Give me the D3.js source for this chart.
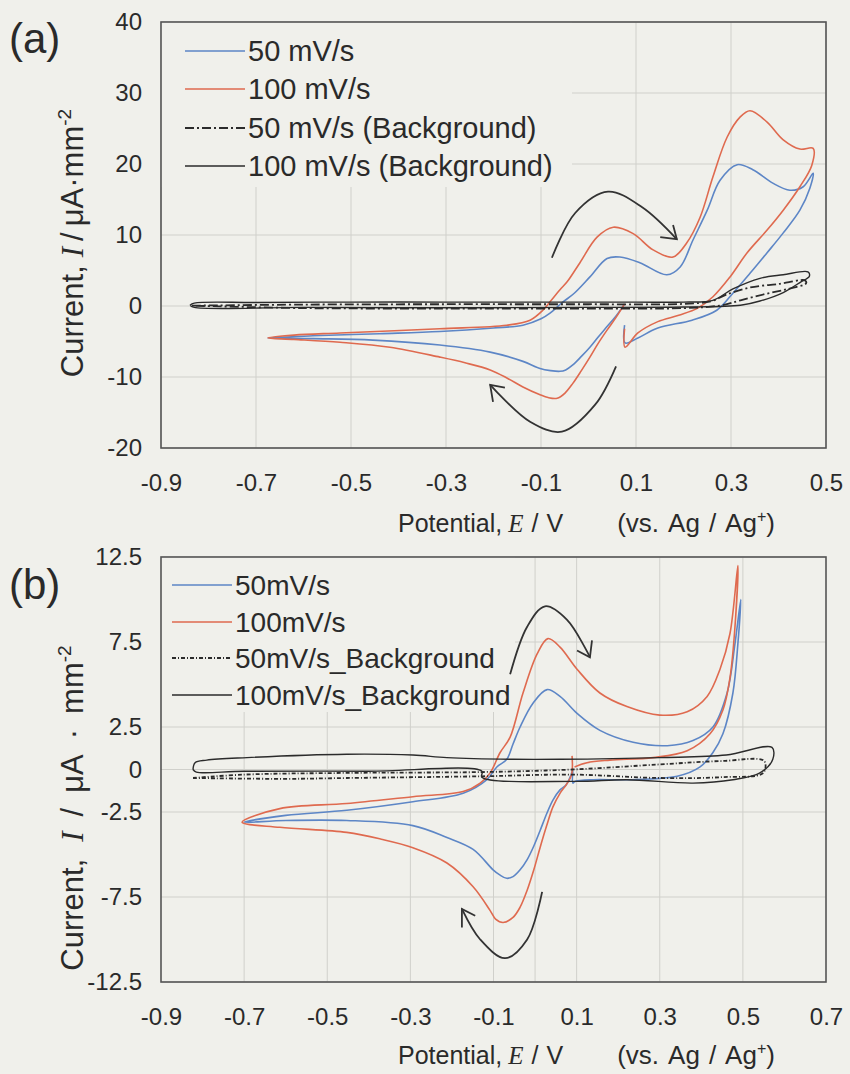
<!DOCTYPE html>
<html>
<head>
<meta charset="utf-8">
<style>
  body{margin:0;background:#f0f0eb;}
  svg{display:block;}
  text{font-family:"Liberation Sans",Arial,sans-serif;fill:#2a2a2a;}
  .serif{font-family:"Liberation Serif","Times New Roman",serif;font-style:italic;}
</style>
</head>
<body>
<svg id="chart" width="850" height="1074"></svg>
<script src="https://d3js.org/d3.v7.min.js"></script>
<script>
// ---- panel (a) : [potential V, current uA/mm2]
var a50 = [[0.076,0.3],[0.058,-1.4],[0.039,-2.9],[0.020,-4.4],[0.003,-5.8],[-0.015,-7.1],[-0.033,-8.3],[-0.048,-9.0],[-0.060,-9.2],[-0.080,-9.1],[-0.102,-8.8],[-0.138,-7.8],[-0.207,-6.5],[-0.313,-5.5],[-0.454,-4.8],[-0.580,-4.6],[-0.675,-4.5],[-0.580,-4.2],[-0.440,-3.9],[-0.313,-3.6],[-0.200,-3.1],[-0.138,-2.7],[-0.100,-1.8],[-0.081,-1.0],[-0.055,0.5],[-0.030,1.8],[0.003,4.1],[0.039,6.7],[0.066,6.9],[0.108,6.1],[0.165,4.4],[0.193,5.5],[0.220,9.3],[0.250,13.5],[0.277,17.7],[0.313,19.9],[0.346,19.2],[0.388,17.3],[0.424,16.3],[0.452,16.8],[0.473,18.7],[0.466,16.6],[0.445,13.5],[0.410,10.3],[0.376,7.5],[0.340,4.6],[0.304,1.8],[0.270,-0.6],[0.218,-2.0],[0.146,-3.1],[0.104,-4.5],[0.077,-5.2],[0.076,-2.7]]
var a100 = [[0.076,0.3],[0.058,-1.6],[0.039,-3.4],[0.020,-5.3],[0.003,-7.2],[-0.015,-9.1],[-0.033,-10.9],[-0.050,-12.3],[-0.066,-13.0],[-0.085,-12.9],[-0.102,-12.5],[-0.138,-11.4],[-0.170,-10.2],[-0.207,-9.0],[-0.260,-8.0],[-0.313,-7.2],[-0.418,-5.8],[-0.523,-5.1],[-0.620,-4.7],[-0.675,-4.5],[-0.620,-4.1],[-0.523,-3.8],[-0.313,-3.2],[-0.172,-2.7],[-0.123,-2.0],[-0.096,-0.6],[-0.081,0.6],[-0.060,2.3],[-0.045,3.4],[-0.018,6.1],[0.018,9.7],[0.052,11.1],[0.094,10.2],[0.136,7.9],[0.178,6.9],[0.207,8.9],[0.235,12.5],[0.262,18.2],[0.292,23.8],[0.319,26.6],[0.340,27.5],[0.376,25.9],[0.410,23.4],[0.445,22.1],[0.473,22.2],[0.470,19.8],[0.445,16.8],[0.410,13.5],[0.376,10.7],[0.334,7.5],[0.298,4.1],[0.262,1.3],[0.230,-0.3],[0.190,-1.3],[0.146,-2.2],[0.104,-3.8],[0.077,-5.8],[0.076,-3.2]]
var a50bg = [[-0.835,0.05],[-0.600,0.2],[-0.300,0.25],[0.000,0.25],[0.200,0.3],[0.260,0.7],[0.290,1.6],[0.340,2.6],[0.400,3.1],[0.456,3.6],[0.458,3.2],[0.420,2.4],[0.373,1.7],[0.320,0.8],[0.280,0.1],[0.200,-0.3],[0.000,-0.35],[-0.300,-0.35],[-0.600,-0.3],[-0.835,0.05]]
var a100bg = [[-0.839,0.1],[-0.830,0.4],[-0.700,0.5],[-0.500,0.55],[-0.300,0.55],[-0.100,0.55],[0.100,0.55],[0.200,0.55],[0.262,0.8],[0.304,2.4],[0.361,3.9],[0.410,4.4],[0.462,4.8],[0.465,4.2],[0.445,3.3],[0.410,1.9],[0.361,0.7],[0.320,0.1],[0.200,-0.15],[0.000,-0.2],[-0.300,-0.25],[-0.600,-0.2],[-0.830,-0.2],[-0.839,0.1]]
// hand-drawn scan direction arrows: curve points and arrow head wings
var arrowsA = [
  {path:[[-0.077,6.8],[-0.028,13.1],[0.041,16.1],[0.113,13.9],[0.186,9.4]], head:[[0.151,9.7],[0.186,9.4],[0.178,11.4]]},
  {path:[[0.058,-8.5],[0.014,-13.9],[-0.056,-17.7],[-0.123,-16.3],[-0.207,-11.1]], head:[[-0.176,-11.5],[-0.207,-11.1],[-0.201,-13.5]]}
]

// ---- panel (b)
var b50 = [[0.091,0.0],[0.075,-0.9],[0.060,-1.2],[0.043,-1.8],[0.028,-2.6],[0.012,-3.6],[-0.003,-4.5],[-0.019,-5.3],[-0.036,-5.9],[-0.053,-6.3],[-0.068,-6.4],[-0.085,-6.2],[-0.101,-5.9],[-0.149,-4.7],[-0.212,-4.0],[-0.294,-3.3],[-0.453,-3.0],[-0.600,-3.0],[-0.700,-3.1],[-0.600,-2.7],[-0.453,-2.4],[-0.294,-1.9],[-0.173,-1.4],[-0.116,-0.6],[-0.092,0.15],[-0.068,0.6],[-0.053,1.5],[-0.036,2.5],[-0.005,3.9],[0.029,4.7],[0.060,4.3],[0.101,3.3],[0.156,2.3],[0.236,1.6],[0.318,1.4],[0.380,1.7],[0.428,2.5],[0.462,4.5],[0.481,7.4],[0.495,10.0],[0.488,7.4],[0.476,4.5],[0.452,2.1],[0.428,1.0],[0.397,0.15],[0.342,-0.4],[0.221,-0.6],[0.140,-0.6],[0.096,-0.7],[0.091,-0.8],[0.091,-0.1]]
var b100 = [[0.089,0.8],[0.088,-0.3],[0.075,-0.9],[0.060,-1.4],[0.043,-2.2],[0.028,-3.3],[0.012,-4.6],[-0.003,-5.9],[-0.019,-7.1],[-0.036,-8.1],[-0.053,-8.7],[-0.077,-9.0],[-0.095,-8.8],[-0.108,-8.3],[-0.149,-6.9],[-0.212,-5.5],[-0.294,-4.6],[-0.370,-4.1],[-0.453,-3.7],[-0.614,-3.4],[-0.705,-3.1],[-0.614,-2.3],[-0.453,-2.0],[-0.294,-1.6],[-0.173,-1.3],[-0.132,-0.8],[-0.108,-0.2],[-0.084,1.0],[-0.060,1.9],[-0.029,4.5],[0.005,6.8],[0.031,7.7],[0.060,7.2],[0.101,5.9],[0.156,4.5],[0.221,3.7],[0.300,3.2],[0.366,3.4],[0.414,4.3],[0.445,5.9],[0.469,8.0],[0.488,12.0],[0.481,8.4],[0.469,5.4],[0.452,3.5],[0.421,2.1],[0.366,1.1],[0.284,0.7],[0.180,0.55],[0.125,0.4],[0.095,0.15]]
var b50bg = [[-0.823,-0.5],[-0.600,-0.55],[-0.453,-0.5],[-0.128,-0.4],[0.090,-0.3],[0.300,-0.5],[0.450,-0.45],[0.549,-0.2],[0.551,0.5],[0.450,0.5],[0.300,0.3],[0.090,0.0],[-0.128,-0.15],[-0.453,-0.2],[-0.700,-0.3],[-0.823,-0.5]]
var b100bg = [[-0.823,0.0],[-0.818,0.4],[-0.790,0.55],[-0.693,0.7],[-0.453,0.9],[-0.294,0.85],[-0.212,0.7],[-0.053,0.6],[0.060,0.6],[0.300,0.7],[0.460,0.85],[0.570,1.3],[0.572,0.6],[0.541,-0.2],[0.476,-0.6],[0.380,-0.8],[0.221,-0.6],[0.096,-0.7],[-0.128,-0.45],[-0.128,-0.1],[-0.400,-0.1],[-0.700,-0.1],[-0.815,-0.15],[-0.823,0.0]]
var arrowsB = [
  {path:[[-0.060,5.6],[-0.019,8.4],[0.024,9.6],[0.077,8.8],[0.132,6.6]], head:[[0.101,7.0],[0.132,6.6],[0.137,7.6]]},
  {path:[[0.017,-7.2],[-0.019,-10.0],[-0.072,-11.1],[-0.132,-10.0],[-0.176,-8.2]], head:[[-0.144,-8.6],[-0.176,-8.2],[-0.176,-9.3]]}
]

// ---- ticks and labels
var xTicksA = [-0.9,-0.7,-0.5,-0.3,-0.1,0.1,0.3,0.5]
var yTicksA = [-20,-10,0,10,20,30,40]
var xTicksB = [-0.9,-0.7,-0.5,-0.3,-0.1,0.1,0.3,0.5,0.7]
var yTicksB = [-12.5,-7.5,-2.5,0,2.5,7.5,12.5]
var xGridB = [-0.7,-0.5,-0.3,-0.1,0,0.1,0.3,0.5]
var legendA = ['50 mV/s','100 mV/s','50 mV/s (Background)','100 mV/s (Background)']
var legendB = ['50mV/s','100mV/s','50mV/s_Background','100mV/s_Background']

var blue = '#5d86c6', red = '#df6a4f', ink = '#2b2b2b', bg = '#f0f0eb'
var styles = [
  {color: blue, width: 1.6},
  {color: red, width: 1.6},
  {color: ink, width: 1.8},
  {color: ink, width: 1.4}
]

var svg = d3.select('#chart')
svg.append('rect').attr('width', 850).attr('height', 1074).attr('fill', bg)

var panels = [
  {tag:'(a)', tagY:53, top:22, bottom:448, xDom:[-0.9,0.5], yDom:[-20,40], xTicks:xTicksA, yTicks:yTicksA, xGrid:xTicksA,
   series:[a50, a100, a50bg, a100bg], arrows:arrowsA, legend:legendA, legBox:[161,22,572,187], legX:185, legFont:29, legRows:[51,89,128,166],
   bgDash:'9,3,2,3', ySpace:0, yTitleY:243, xTitleY:532},
  {tag:'(b)', tagY:599, top:557, bottom:982, xDom:[-0.9,0.7], yDom:[-12.5,12.5], xTicks:xTicksB, yTicks:yTicksB, xGrid:xGridB,
   series:[b50, b100, b50bg, b100bg], arrows:arrowsB, legend:legendB, legBox:[161,557,515,712], legX:172, legFont:28, legRows:[585,622,658,695],
   bgDash:'4,2,1,2', ySpace:9, yTitleY:808, xTitleY:1064}
]

var left = 161, right = 826

panels.forEach(function(p){
  var x = d3.scaleLinear().domain(p.xDom).range([left, right])
  var y = d3.scaleLinear().domain(p.yDom).range([p.bottom, p.top])
  var g = svg.append('g')

  // grid
  g.selectAll('.gx').data(p.xGrid).enter().append('line')
    .attr('x1', d => x(d)).attr('x2', d => x(d))
    .attr('y1', p.top).attr('y2', p.bottom)
    .attr('stroke', '#d0d0cb').attr('stroke-width', 1)
  g.selectAll('.gy').data(p.yTicks).enter().append('line')
    .attr('x1', left).attr('x2', right)
    .attr('y1', d => y(d)).attr('y2', d => y(d))
    .attr('stroke', '#d0d0cb').attr('stroke-width', 1)

  // legend backdrop hides the grid
  var lb = p.legBox
  g.append('rect').attr('x', lb[0]).attr('y', lb[1]).attr('width', lb[2]-lb[0]).attr('height', lb[3]-lb[1]).attr('fill', bg)

  // axes
  g.append('g').attr('transform', `translate(0,${p.bottom})`)
    .call(d3.axisBottom(x).tickValues(p.xTicks).tickSize(0).tickPadding(26).tickFormat(d => String(d)))
  g.append('g').attr('transform', `translate(${left},0)`)
    .call(d3.axisLeft(y).tickValues(p.yTicks).tickSize(0).tickPadding(19).tickFormat(d => String(d)))
  g.selectAll('.domain').remove()
  g.selectAll('.tick text').attr('font-size', 24).attr('fill', '#2a2a2a')
    .attr('font-family', '"Liberation Sans",Arial,sans-serif')

  // curves
  var line = d3.line().x(d => x(d[0])).y(d => y(d[1])).curve(d3.curveCatmullRom.alpha(0.5))
  p.series.forEach(function(s, i){
    var st = styles[i]
    g.append('path').attr('d', line(s)).attr('fill', 'none')
      .attr('stroke', st.color).attr('stroke-width', st.width)
      .attr('stroke-dasharray', i == 2 ? p.bgDash : null)
      .attr('stroke-linejoin', 'round')
  })

  // arrows
  var straight = d3.line().x(d => x(d[0])).y(d => y(d[1]))
  p.arrows.forEach(function(a){
    g.append('path').attr('d', line(a.path)).attr('fill', 'none').attr('stroke', '#333').attr('stroke-width', 1.8)
    g.append('path').attr('d', straight(a.head)).attr('fill', 'none').attr('stroke', '#333').attr('stroke-width', 1.8)
  })

  // frame
  g.append('rect').attr('x', left).attr('y', p.top).attr('width', right-left).attr('height', p.bottom-p.top)
    .attr('fill', 'none').attr('stroke', '#555').attr('stroke-width', 1.6)

  // legend
  p.legend.forEach(function(t, i){
    var st = styles[i], ly = p.legRows[i]
    g.append('line').attr('x1', p.legX).attr('x2', p.legX + 60).attr('y1', ly).attr('y2', ly)
      .attr('stroke', st.color).attr('stroke-width', st.width)
      .attr('stroke-dasharray', i == 2 ? p.bgDash : null)
    g.append('text').attr('x', p.legX + 63).attr('y', ly + 10).attr('font-size', p.legFont).text(t)
  })

  // panel tag
  svg.append('text').attr('x', 9).attr('y', p.tagY).attr('font-size', 42).text(p.tag)

  // x title
  var xt = svg.append('text').attr('x', 398).attr('y', p.xTitleY).attr('font-size', 25)
  xt.append('tspan').text('Potential,')
  xt.append('tspan').attr('dx', 6).attr('class', 'serif').text('E')
  xt.append('tspan').attr('dx', 8).text('/')
  xt.append('tspan').attr('dx', 8).text('V')
  xt.append('tspan').attr('dx', 54).attr('font-size', 26).text('(vs.')
  xt.append('tspan').attr('dx', 9).attr('font-size', 26).text('Ag')
  xt.append('tspan').attr('dx', 9).attr('font-size', 26).text('/')
  xt.append('tspan').attr('dx', 9).attr('font-size', 26).text('Ag')
  xt.append('tspan').attr('dy', -10).attr('font-size', 16).text('+')
  xt.append('tspan').attr('dy', 10).attr('font-size', 26).text(')')

  // y title
  var yt = svg.append('text').attr('transform', `translate(83,${p.yTitleY}) rotate(-90)`)
    .attr('text-anchor', 'middle').attr('font-size', 31)
  yt.append('tspan').text('Current,')
  yt.append('tspan').attr('dx', 8 + p.ySpace).attr('class', 'serif').text('I')
  yt.append('tspan').attr('dx', 6 + p.ySpace).text('/')
  yt.append('tspan').attr('dx', 6 + p.ySpace).text('μA')
  yt.append('tspan').attr('dx', p.ySpace ? 6 + p.ySpace : 0).text('·')
  yt.append('tspan').attr('dx', p.ySpace ? 6 + p.ySpace : 0).text('mm')
  yt.append('tspan').attr('dy', -12).attr('font-size', 19).text('-2')
})
</script>
</body>
</html>
